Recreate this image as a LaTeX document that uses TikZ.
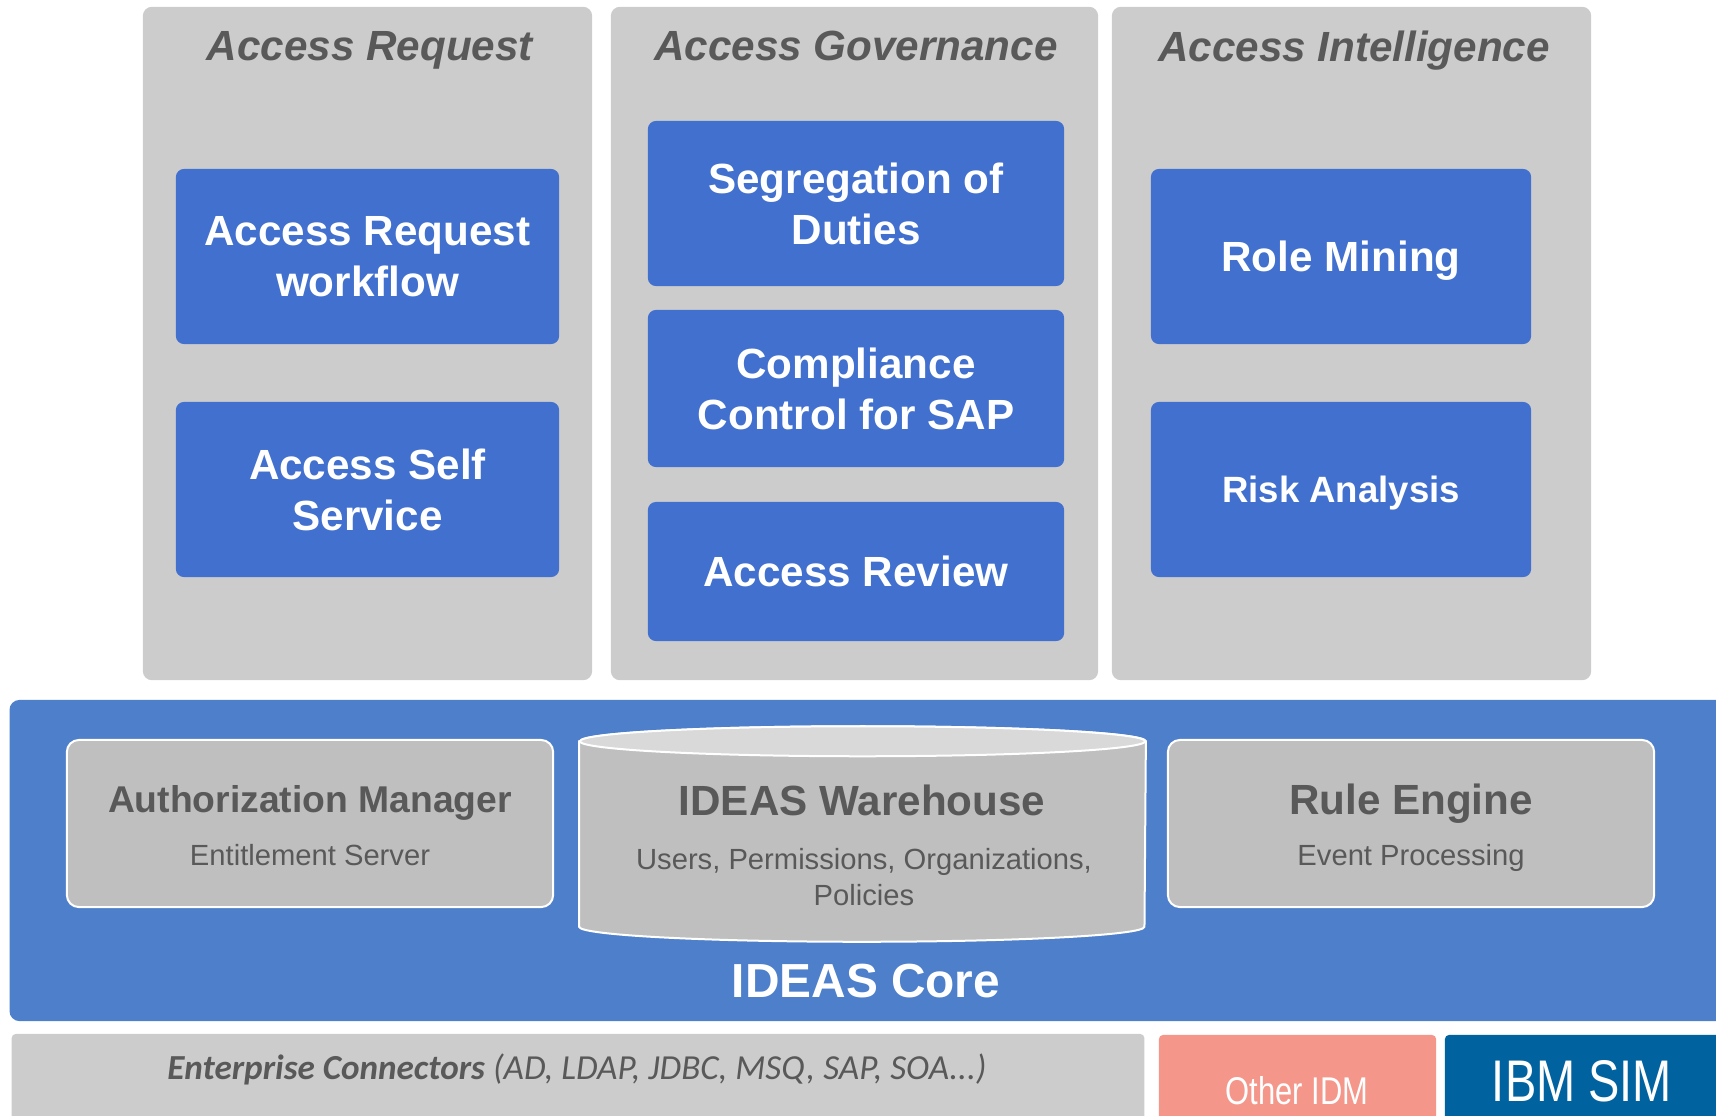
\documentclass[tikz,border=0pt]{standalone}
\usepackage{fontspec}
\setmainfont{Liberation Sans}
\newfontfamily\calfont{Carlito}
\newfontfamily\narrowfont[FakeStretch=0.8]{Liberation Sans}
\usetikzlibrary{positioning}
\definecolor{panelgray}{HTML}{CCCCCC}
\definecolor{boxblue}{HTML}{4170CE}
\definecolor{coreblue}{HTML}{4D7FCB}
\definecolor{innergray}{HTML}{BFBFBF}
\definecolor{topgray}{HTML}{D9D9D9}
\definecolor{textgray}{HTML}{595959}
\definecolor{idmred}{HTML}{F4978A}
\definecolor{simblue}{HTML}{0063A0}
\tikzset{
  panel/.style={fill=panelgray, rounded corners=0.09cm, inner sep=0pt, minimum height=6.73cm},
  paneltitle/.style={text=textgray, text depth=0pt, font=\fontsize{12}{14}\selectfont\bfseries\itshape},
  bluebox/.style={fill=boxblue, rounded corners=0.08cm, text=white, align=center,
    inner sep=0pt, font=\fontsize{12}{14.5}\selectfont\bfseries},
  corebox/.style={fill=innergray, draw=white, line width=0.02cm, rounded corners=0.12cm,
    inner sep=0pt, minimum width=4.86cm, minimum height=1.67cm},
  boxtitle/.style={text=textgray, text depth=0pt, font=\fontsize{12}{14}\selectfont\bfseries},
  boxsub/.style={text=textgray, align=center, font=\fontsize{8.3}{10.2}\selectfont},
  basebox/.style={rounded corners=0.04cm, inner sep=0pt, minimum height=0.96cm},
}
\begin{document}
\begin{tikzpicture}[x=0.01cm,y=-0.01cm]
%
\useasboundingbox (0,0) rectangle (1716,1115);
\clip (0,0) rectangle (1716,1115);
%
% upper columns
\node[panel,minimum width=4.49cm] (req) at (367.5,343.5) {};
\node[panel,minimum width=4.87cm] (gov) at (854.5,343.5) {};
\node[panel,minimum width=4.79cm] (intel) at (1351.5,343.5) {};
\node[paneltitle] (reqtitle) at (370,46) {Access Request};
\node[paneltitle] (govtitle) at (856,46) {Access Governance};
\node[paneltitle] (inteltitle) at (1354,46) {Access Intelligence};
%
\node[bluebox,minimum width=3.83cm,minimum height=1.75cm] (workflow) at (367.5,256.5) {Access Request\\workflow};
\node[bluebox,minimum width=3.83cm,minimum height=1.75cm] (selfserv) at (367.5,489.5) {Access Self\\Service};
\node[bluebox,minimum width=4.16cm,minimum height=1.65cm] (sod) at (856,203.5) {Segregation of\\Duties};
\node[bluebox,minimum width=4.16cm,minimum height=1.57cm] (sap) at (856,388.5) {Compliance\\Control for SAP};
\node[bluebox,minimum width=4.16cm,minimum height=1.39cm] (review) at (856,571.5) {Access Review};
\node[bluebox,minimum width=3.80cm,minimum height=1.75cm,text depth=0pt] (mining) at (1341,256.5) {Role Mining};
\node[bluebox,minimum width=3.80cm,minimum height=1.75cm,text depth=0pt,font=\fontsize{10.4}{12.5}\selectfont\bfseries] (risk) at (1341,489.5) {Risk Analysis};
%
% core layer
\node[fill=coreblue,rounded corners=0.1cm,inner sep=0pt,minimum width=17.2cm,minimum height=3.21cm] (core) at (870,860.5) {};
\node[text=white,font=\fontsize{13.6}{16}\selectfont\bfseries] (corelabel) at (866,981) {IDEAS Core};
%
\node[corebox] (authz) at (310,823.5) {};
\node[boxtitle,font=\fontsize{10.6}{13}\selectfont\bfseries] (authztitle) at (310,799) {Authorization Manager};
\node[boxsub] (authzsub) at (310,855) {Entitlement Server};
%
\node[inner sep=0pt,minimum width=5.65cm,minimum height=1.84cm] (wh) at (862.5,834) {};
\filldraw[fill=innergray,draw=white,line width=0.02cm] (wh.north west) -- (wh.south west)
  arc[start angle=180,end angle=360,x radius=2.825cm,y radius=0.15cm] -- (wh.north east)
  arc[start angle=0,end angle=180,x radius=2.825cm,y radius=0.15cm] -- cycle;
\filldraw[fill=topgray,draw=white,line width=0.02cm] (wh.north) ellipse[x radius=2.825cm,y radius=0.15cm];
\node[boxtitle] (whtitle) at (862,800) {IDEAS Warehouse};
\node[boxsub] (whsub) at (864,877) {Users, Permissions, Organizations,\\Policies};
%
\node[corebox] (rules) at (1411,823.5) {};
\node[boxtitle] (rulestitle) at (1411,799) {Rule Engine};
\node[boxsub] (rulessub) at (1411,858) {Event Processing};
%
% bottom row
\node[basebox,fill=panelgray,minimum width=11.32cm] (conn) at (578,1082) {};
\node[text=textgray,font=\fontsize{10}{12}\selectfont\calfont\itshape] (connlabel) at (577,1069)
  {\textbf{Enterprise Connectors} (AD, LDAP, JDBC, MSQ, SAP, SOA...)};
\node[basebox,fill=idmred,minimum width=2.77cm] (idm) at (1297.5,1083) {};
\node[text=white,font=\fontsize{11}{13}\selectfont\narrowfont] (idmlabel) at (1297,1091) {Other IDM};
\node[basebox,fill=simblue,minimum width=2.85cm] (sim) at (1587.5,1083) {};
\node[text=white,font=\fontsize{16.7}{19}\selectfont\narrowfont] (simlabel) at (1582,1081) {IBM SIM};
%
\end{tikzpicture}
\end{document}
